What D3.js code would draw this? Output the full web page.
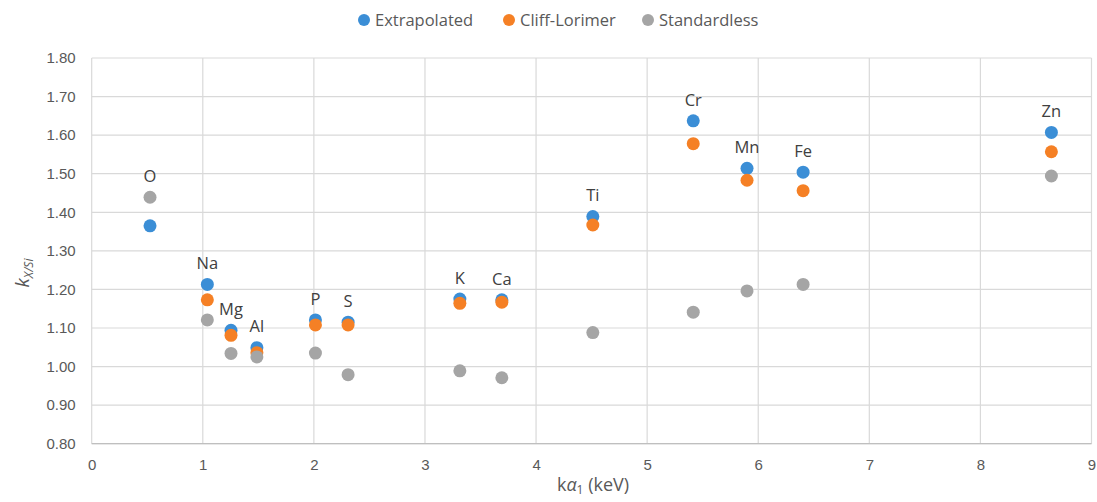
<!DOCTYPE html>
<html><head><meta charset="utf-8">
<script src="https://cdn.jsdelivr.net/npm/d3@7"></script>
<style>
body{margin:0;background:#fff;}
svg{display:block;font-family:"Open Sans","Noto Sans",sans-serif;}
</style></head>
<body><svg id="c" width="1097" height="502"></svg>
<script>
const elements = ["O","Na","Mg","Al","P","S","K","Ca","Ti","Cr","Mn","Fe","Zn"];
const energies = [0.525,1.041,1.254,1.487,2.014,2.308,3.314,3.692,4.511,5.415,5.899,6.404,8.639];
const extrapolated = [1.365,1.213,1.094,1.049,1.121,1.115,1.175,1.173,1.389,1.637,1.514,1.504,1.607];
const cliffLorimer = [null,1.173,1.081,1.036,1.108,1.108,1.164,1.167,1.367,1.578,1.483,1.456,1.557];
const standardless = [1.439,1.121,1.034,1.025,1.035,0.979,0.989,0.971,1.088,1.141,1.196,1.213,1.494];
const seriesNames = ["Extrapolated","Cliff-Lorimer","Standardless"];
const seriesColors = ["#3b8ed6","#f58025","#a5a5a5"];
const xTicks = [0,1,2,3,4,5,6,7,8,9];
const yTicks = [0.8,0.9,1.0,1.1,1.2,1.3,1.4,1.5,1.6,1.7,1.8];

const svg = d3.select("#c");
const x = d3.scaleLinear().domain([0,9]).range([91.7,1091.5]);
const y = d3.scaleLinear().domain([0.8,1.8]).range([443.7,58]);

// gridlines
svg.append("g").selectAll("line.h").data(yTicks).join("line")
  .attr("x1",x(0)).attr("x2",x(9)).attr("y1",d=>y(d)).attr("y2",d=>y(d))
  .attr("stroke","#d9d9d9").attr("stroke-width",1.2);
svg.append("g").selectAll("line.v").data(xTicks).join("line")
  .attr("y1",y(0.8)).attr("y2",y(1.8)).attr("x1",d=>x(d)).attr("x2",d=>x(d))
  .attr("stroke","#d9d9d9").attr("stroke-width",1.2);
// x axis line
svg.append("line").attr("x1",x(0)).attr("x2",x(9)).attr("y1",y(0.8)).attr("y2",y(0.8))
  .attr("stroke","#bfbfbf").attr("stroke-width",1.3);

// axes via d3
const xAxis = svg.append("g").attr("transform",`translate(0,${y(0.8)})`)
  .call(d3.axisBottom(x).tickValues(xTicks).tickFormat(d3.format("d")).tickSize(0).tickPadding(16));
xAxis.select(".domain").remove();
xAxis.selectAll("text").attr("fill","#595959").attr("font-size",15);
const yAxis = svg.append("g").attr("transform",`translate(${x(0)},0)`)
  .call(d3.axisLeft(y).tickValues(yTicks).tickFormat(d3.format(".2f")).tickSize(0).tickPadding(16));
yAxis.select(".domain").remove();
yAxis.selectAll("text").attr("fill","#595959").attr("font-size",15);

// axis titles
const xt = svg.append("text").attr("x",593).attr("y",491).attr("text-anchor","middle")
  .attr("fill","#595959").attr("font-size",18);
xt.append("tspan").text("k");
xt.append("tspan").attr("font-style","italic").text("α");
xt.append("tspan").attr("font-size",12).attr("dy",3).text("1");
xt.append("tspan").attr("dy",-3).text(" (keV)");

const yt = svg.append("text").attr("transform","translate(29,273) rotate(-90)").attr("text-anchor","middle")
  .attr("fill","#595959").attr("font-size",19).attr("font-style","italic");
yt.append("tspan").text("k");
yt.append("tspan").attr("font-size",12).attr("dy",4).text("X/Si");

// points
const allSeries = [extrapolated, cliffLorimer, standardless];
allSeries.forEach((vals,si)=>{
  svg.append("g").selectAll("circle").data(vals.map((v,i)=>({x:energies[i],v})).filter(d=>d.v!=null))
    .join("circle").attr("cx",d=>x(d.x)).attr("cy",d=>y(d.v)).attr("r",6.5)
    .attr("fill",seriesColors[si]);
});

// element labels
svg.append("g").selectAll("text").data(elements).join("text")
  .attr("x",(d,i)=>x(energies[i]))
  .attr("y",(d,i)=>y(d3.max(allSeries.map(s=>s[i]).filter(v=>v!=null)))-21)
  .attr("dy","0.35em").attr("text-anchor","middle")
  .attr("fill","#404040").attr("font-size",16.5).text(d=>d);

// legend
const legendX = [364,509,648];
const lg = svg.append("g");
seriesNames.forEach((n,i)=>{
  lg.append("circle").attr("cx",legendX[i]).attr("cy",20).attr("r",6).attr("fill",seriesColors[i]);
  lg.append("text").attr("x",legendX[i]+11).attr("y",20).attr("dy","0.35em")
    .attr("fill","#595959").attr("font-size",16.5).text(n);
});
</script></body></html>
